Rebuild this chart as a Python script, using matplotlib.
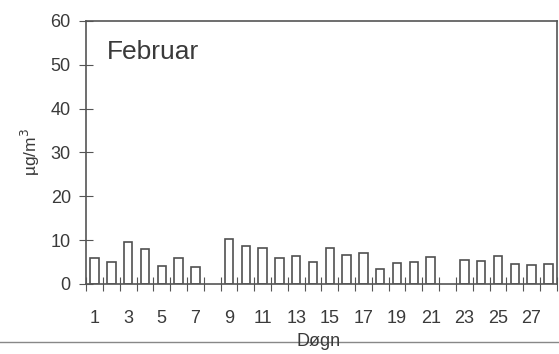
import numpy as np
import matplotlib
matplotlib.use("Agg")
import matplotlib.pyplot as plt
from matplotlib.lines import Line2D

# Daily values, February (days 8 and 22 missing)
days = np.arange(1, 29)
values = [6.0, 5.1, 9.5, 7.9, 4.1, 5.9, 3.9, np.nan, 10.2, 8.7,
          8.2, 6.0, 6.3, 5.0, 8.1, 6.7, 7.0, 3.3, 4.8, 4.9,
          6.2, np.nan, 5.5, 5.2, 6.4, 4.6, 4.2, 4.5]
xlabels = [str(d) for d in range(1, 28, 2)]
yticks = [0, 10, 20, 30, 40, 50, 60]

plt.rcParams["font.family"] = ["Liberation Sans", "DejaVu Sans"]
ink = "#3a3a3a"

fig = plt.figure(figsize=(5.59, 3.54), dpi=100)
ax = fig.add_axes([0.154, 0.198, 0.842, 0.743])

ax.bar(days, np.array(values, dtype=float), width=0.5, facecolor="white",
       edgecolor="#505050", linewidth=1.2)

ax.set_xlim(0.5, 28.5)
ax.set_ylim(0, 60)

# labels on odd days, tick marks at the day boundaries
ax.set_xticks(range(1, 28, 2))
ax.set_xticklabels(xlabels)
ax.set_xticks(np.arange(0.5, 29, 1), minor=True)
ax.tick_params(axis="x", which="major", length=0, pad=19, labelsize=13, labelcolor=ink)
ax.tick_params(axis="x", which="minor", direction="inout", length=10, width=0.8, color="#555555")

ax.set_yticks(yticks)
ax.tick_params(axis="y", direction="inout", length=10, width=0.8, color="#555555",
               labelsize=13, labelcolor=ink, pad=6)

for s in ax.spines.values():
    s.set_color("#555555")
    s.set_linewidth(1.2)

ax.set_ylabel("µg/m$^3$", fontsize=12.5, color=ink, labelpad=6)
ax.text(0.045, 0.88, "Februar", transform=ax.transAxes, fontsize=19,
        color=ink, va="center", ha="left")

# scanned separator line across the bottom
fig.add_artist(Line2D([0, 1], [0.034, 0.034], transform=fig.transFigure,
                      color="#888888", linewidth=1.0))
fig.text(0.569, 0.034, "Døgn", fontsize=13, color=ink, ha="center", va="center")

fig.savefig("out.png", dpi=100)
